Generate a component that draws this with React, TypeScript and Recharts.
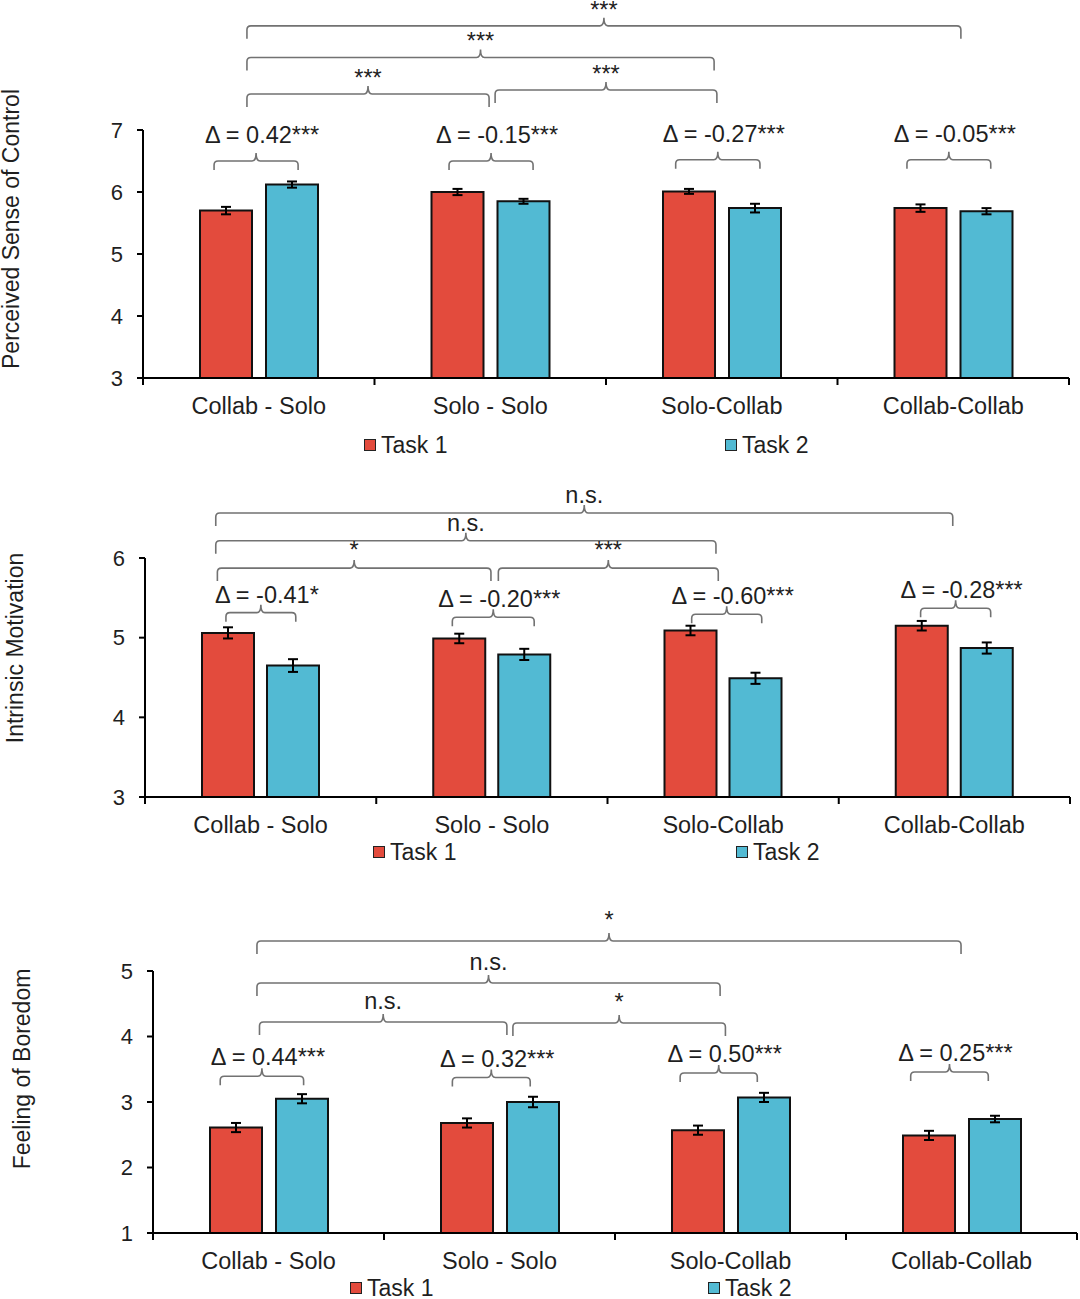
import React from 'react';
import { ComposedChart, Bar, XAxis, YAxis, ErrorBar, ReferenceLine } from 'recharts';

const FONT = "'Liberation Sans', Arial, sans-serif";
const TEXT = '#1f1f1f';
const RED = '#E34B3D';
const BLUE = '#52BAD3';

const categories = ['Collab - Solo', 'Solo - Solo', 'Solo-Collab', 'Collab-Collab'];

// Perceived Sense of Control
const controlTask1 = [5.70, 6.00, 6.01, 5.74];
const controlTask2 = [6.12, 5.85, 5.74, 5.69];
const controlErr1 = [0.06, 0.05, 0.04, 0.06];
const controlErr2 = [0.05, 0.04, 0.07, 0.05];

// Intrinsic Motivation
const motivationTask1 = [5.06, 4.99, 5.09, 5.15];
const motivationTask2 = [4.65, 4.79, 4.49, 4.87];
const motivationErr1 = [0.07, 0.06, 0.06, 0.06];
const motivationErr2 = [0.08, 0.07, 0.07, 0.07];

// Feeling of Boredom
const boredomTask1 = [2.61, 2.68, 2.57, 2.49];
const boredomTask2 = [3.05, 3.00, 3.07, 2.74];
const boredomErr1 = [0.07, 0.07, 0.07, 0.07];
const boredomErr2 = [0.07, 0.08, 0.07, 0.05];

// comparison brackets: span in category units (0..4), level in axis units
const controlPairs = [
  { from: 0.307, to: 0.670, level: 6.50, text: 'Δ = 0.42***' },
  { from: 1.322, to: 1.685, level: 6.50, text: 'Δ = -0.15***' },
  { from: 2.301, to: 2.665, level: 6.52, text: 'Δ = -0.27***' },
  { from: 3.300, to: 3.662, level: 6.52, text: 'Δ = -0.05***' },
];
const controlContrasts = [
  { from: 0.449, to: 3.533, level: 8.68, text: '***' },
  { from: 0.449, to: 2.467, level: 8.17, text: '***' },
  { from: 0.449, to: 1.495, level: 7.58, text: '***' },
  { from: 1.521, to: 2.479, level: 7.645, text: '***' },
];

const motivationPairs = [
  { from: 0.350, to: 0.652, level: 5.314, text: 'Δ = -0.41*' },
  { from: 1.329, to: 1.683, level: 5.257, text: 'Δ = -0.20***' },
  { from: 2.364, to: 2.667, level: 5.294, text: 'Δ = -0.60***' },
  { from: 3.354, to: 3.657, level: 5.370, text: 'Δ = -0.28***' },
];
const motivationContrasts = [
  { from: 0.306, to: 3.493, level: 6.565, text: 'n.s.' },
  { from: 0.306, to: 2.469, level: 6.216, text: 'n.s.' },
  { from: 0.313, to: 1.496, level: 5.873, text: '*' },
  { from: 1.528, to: 2.479, level: 5.873, text: '***' },
];

const boredomPairs = [
  { from: 0.291, to: 0.652, level: 3.392, text: 'Δ = 0.44***' },
  { from: 1.296, to: 1.633, level: 3.373, text: 'Δ = 0.32***' },
  { from: 2.282, to: 2.616, level: 3.443, text: 'Δ = 0.50***' },
  { from: 3.280, to: 3.616, level: 3.458, text: 'Δ = 0.25***' },
];
const boredomContrasts = [
  { from: 0.450, to: 3.498, level: 5.458, text: '*' },
  { from: 0.450, to: 2.455, level: 4.817, text: 'n.s.' },
  { from: 0.461, to: 1.532, level: 4.221, text: 'n.s.' },
  { from: 1.558, to: 2.478, level: 4.206, text: '*' },
];

const boundaries = [0, 1, 2, 3, 4];

type Bracket = { from: number; to: number; level: number; text: string };

const makeRows = (t1: number[], t2: number[], e1: number[], e2: number[]) =>
  categories.map((name, i) => ({ name, t1: t1[i], t2: t2[i], e1: e1[i], e2: e2[i] }));

// the reference line runs from the first to the last band centre; band units are derived from it
const bandMapper = (p: any) => {
  const c0 = Math.min(p.x1, p.x2);
  const c3 = Math.max(p.x1, p.x2);
  const w = (c3 - c0) / (categories.length - 1);
  return (u: number) => c0 + (u - 0.5) * w;
};

const bracePath = (x1: number, x2: number, y: number, drop: number, peak: number) => {
  const r = 4;
  const m = (x1 + x2) / 2;
  return `M${x1},${y + drop} L${x1},${y + r} Q${x1},${y} ${x1 + r},${y} L${m - r},${y} Q${m},${y} ${m},${y - peak} ` +
    `Q${m},${y} ${m + r},${y} L${x2 - r},${y} Q${x2},${y} ${x2},${y + r} L${x2},${y + drop}`;
};

const braceShape = (b: Bracket, gap: number, drop: number, dx: number) => (p: any) => {
  const at = bandMapper(p);
  const x1 = at(b.from);
  const x2 = at(b.to);
  const y = p.y1;
  const m = (x1 + x2) / 2;
  return (
    <g>
      <path d={bracePath(x1, x2, y, drop, 8)} fill="none" stroke="#727272" strokeWidth={1.6} />
      <text x={m + dx} y={y - gap} textAnchor="middle" fontSize={23.5} fill={TEXT} fontFamily={FONT}>
        {b.text}
      </text>
    </g>
  );
};

const boundaryTicks = (p: any) => {
  const at = bandMapper(p);
  const yb = Math.max(p.y1, p.y2);
  return (
    <g>
      {boundaries.map((k) => (
        <line key={k} x1={at(k)} x2={at(k)} y1={yb} y2={yb + 7} stroke="#000" strokeWidth={2} />
      ))}
    </g>
  );
};

const CategoryTick = (props: any) => {
  const { x, y, payload } = props;
  return (
    <text x={x} y={y + 20} textAnchor="middle" dominantBaseline="central" fontSize={23.5} fill={TEXT} fontFamily={FONT}>
      {payload.value}
    </text>
  );
};

const LegendItem = ({ left, top, color, text }: { left: number; top: number; color: string; text: string }) => (
  <div style={{
    position: 'absolute', left, top, height: 22, lineHeight: '22px', display: 'flex', alignItems: 'center',
    fontFamily: FONT, fontSize: 23, color: TEXT, whiteSpace: 'nowrap'
  }}>
    <span style={{ display: 'inline-block', width: 10, height: 10, border: '1.6px solid #222', background: color, marginRight: 5 }} />
    {text}
  </div>
);

interface PanelProps {
  top: number;
  height: number;
  margin: { top: number; right: number; bottom: number; left: number };
  data: any[];
  domain: [number, number];
  ticks: number[];
  title: string;
  titleX: number;
  titleDy: number;
  barGap: number;
  pairs: Bracket[];
  contrasts: Bracket[];
  innerGap: number;
  outerGap: number;
  legendY: number;
  legendX: [number, number];
}

const Panel: React.FC<PanelProps> = (p) => {
  const plotH = p.height - p.margin.top - p.margin.bottom - 40;
  const titleY = p.margin.top + plotH / 2 + p.titleDy;
  const first = categories[0];
  const last = categories[categories.length - 1];
  const title = () => (
    <text
      x={p.titleX}
      y={titleY}
      transform={`rotate(-90, ${p.titleX}, ${titleY})`}
      textAnchor="middle"
      fontSize={23}
      fill={TEXT}
      fontFamily={FONT}
    >
      {p.title}
    </text>
  );

  return (
    <>
      <div style={{ position: 'absolute', left: 0, top: p.top }}>
        <ComposedChart width={1080} height={p.height} data={p.data} margin={p.margin} barGap={p.barGap} barSize={52}>
          <XAxis
            dataKey="name"
            interval={0}
            height={40}
            tickLine={false}
            axisLine={{ stroke: '#000', strokeWidth: 2 }}
            tick={<CategoryTick />}
          />
          <YAxis
            domain={p.domain}
            ticks={p.ticks}
            allowDataOverflow
            width={50}
            tickSize={6}
            tickMargin={14}
            axisLine={{ stroke: '#000', strokeWidth: 2 }}
            tickLine={{ stroke: '#000', strokeWidth: 2 }}
            tick={{ fill: TEXT, fontSize: 22, fontFamily: FONT }}
            label={{ content: title }}
          />
          <Bar dataKey="t1" name="Task 1" fill={RED} stroke="#111" strokeWidth={2} isAnimationActive={false}>
            <ErrorBar dataKey="e1" width={5} stroke="#000" strokeWidth={2} direction="y" />
          </Bar>
          <Bar dataKey="t2" name="Task 2" fill={BLUE} stroke="#111" strokeWidth={2} isAnimationActive={false}>
            <ErrorBar dataKey="e2" width={5} stroke="#000" strokeWidth={2} direction="y" />
          </Bar>
          <ReferenceLine
            ifOverflow="visible"
            segment={[{ x: first, y: p.domain[0] }, { x: last, y: p.domain[0] }]}
            shape={boundaryTicks}
          />
          {p.contrasts.map((b, i) => (
            <ReferenceLine
              key={`c${i}`}
              ifOverflow="visible"
              segment={[{ x: first, y: b.level }, { x: last, y: b.level }]}
              shape={braceShape(b, p.outerGap, 13, 0)}
            />
          ))}
          {p.pairs.map((b, i) => (
            <ReferenceLine
              key={`p${i}`}
              ifOverflow="visible"
              segment={[{ x: first, y: b.level }, { x: last, y: b.level }]}
              shape={braceShape(b, p.innerGap, 9, 6)}
            />
          ))}
        </ComposedChart>
      </div>
      <LegendItem left={p.legendX[0]} top={p.legendY - 11} color={RED} text="Task 1" />
      <LegendItem left={p.legendX[1]} top={p.legendY - 11} color={BLUE} text="Task 2" />
    </>
  );
};

export default function App() {
  return (
    <div style={{ position: 'absolute', left: 0, top: 0, width: 1080, height: 1299, background: '#fff', overflow: 'hidden' }}>
      <Panel
        top={0}
        height={460}
        margin={{ top: 130, right: 11, bottom: 42, left: 93 }}
        data={makeRows(controlTask1, controlTask2, controlErr1, controlErr2)}
        domain={[3, 7]}
        ticks={[3, 4, 5, 6, 7]}
        title="Perceived Sense of Control"
        titleX={19}
        titleDy={-25}
        barGap={14}
        pairs={controlPairs}
        contrasts={controlContrasts}
        innerGap={18}
        outerGap={8}
        legendY={444.5}
        legendX={[364, 725]}
      />
      <Panel
        top={470}
        height={400}
        margin={{ top: 88, right: 10, bottom: 33, left: 95 }}
        data={makeRows(motivationTask1, motivationTask2, motivationErr1, motivationErr2)}
        domain={[3, 6]}
        ticks={[3, 4, 5, 6]}
        title="Intrinsic Motivation"
        titleX={23}
        titleDy={-29.5}
        barGap={13}
        pairs={motivationPairs}
        contrasts={motivationContrasts}
        innerGap={10}
        outerGap={10}
        legendY={852}
        legendX={[373, 736]}
      />
      <Panel
        top={890}
        height={409}
        margin={{ top: 81, right: 3, bottom: 26, left: 103 }}
        data={makeRows(boredomTask1, boredomTask2, boredomErr1, boredomErr2)}
        domain={[1, 5]}
        ticks={[1, 2, 3, 4, 5]}
        title="Feeling of Boredom"
        titleX={30}
        titleDy={-33}
        barGap={14}
        pairs={boredomPairs}
        contrasts={boredomContrasts}
        innerGap={11}
        outerGap={13}
        legendY={1288}
        legendX={[350, 708]}
      />
    </div>
  );
}
